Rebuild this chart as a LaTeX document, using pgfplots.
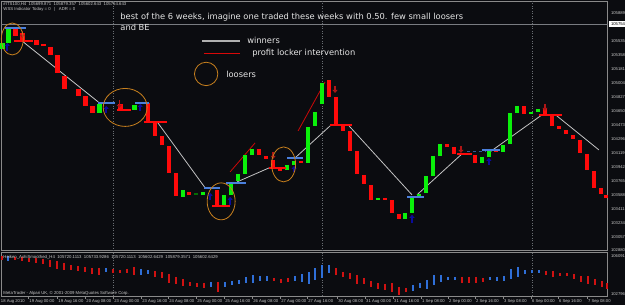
\documentclass[border=0pt]{standalone}
\usepackage{pgfplots}
\pgfplotsset{compat=1.18}
\usepackage{fontspec}
\setmainfont{DejaVu Sans}
\newfontfamily\smallf{Liberation Sans}
\usetikzlibrary{arrows.meta}
\definecolor{bgc}{HTML}{0B0C10}
\definecolor{gridc}{HTML}{6A6E73}
\definecolor{framec}{HTML}{8A8A8A}
\definecolor{candleR}{HTML}{FF0A0A}
\definecolor{candleG}{HTML}{0AF00A}
\definecolor{lvlblue}{HTML}{4A7FDC}
\definecolor{arrblue}{HTML}{0B0B9C}
\definecolor{arrred}{HTML}{B01616}
\definecolor{winc}{HTML}{C4C4C4}
\definecolor{orc}{HTML}{C8801E}
\definecolor{indred}{HTML}{D01212}
\definecolor{indblue}{HTML}{2F6FD8}
\definecolor{txtc}{HTML}{E6E6E6}
\definecolor{axtxt}{HTML}{C8C8C8}
\pgfplotsset{
  body/.style={line width=4.6bp, line cap=butt},
  lvl/.style={line width=2bp, line cap=butt},
  indbar/.style={line width=1.6bp, line cap=butt},
  uparr/.style={arrblue, line width=1.6bp, -{Triangle[length=3bp,width=5bp]}},
  dnarr/.style={arrred, line width=1.4bp, -{Triangle[length=3bp,width=5bp]}},
}
\begin{document}
\begin{tikzpicture}
\begin{axis}[
  width=625bp, height=305bp, scale only axis,
  xmin=0, xmax=625, ymin=0, ymax=305, y dir=reverse,
  axis line style={draw=none}, ticks=none,
  axis background/.style={fill=bgc},
  unbounded coords=jump, clip=false,
]
% frames and separators
\addplot[framec, line width=0.8bp] coordinates {(1,1) (608,1) (608,251) (1,251) (1,1)};
\addplot[framec, line width=0.8bp] coordinates {(1,253) (608,253) (608,297) (1,297) (1,253)};
\addplot[gridc, line width=0.5bp, dotted] coordinates {(113,1) (113,297) (113,nan) (322,1) (322,297) (322,nan) (532,1) (532,297)};
\addplot[gridc!90!white, line width=0.8bp] coordinates {(1,24) (608,24)};
% date ticks
\addplot[framec, line width=0.6bp] coordinates {(28,297) (28,299) (28,nan) (57,297) (57,299) (57,nan) (85,297) (85,299) (85,nan) (113,297) (113,299) (113,nan) (141,297) (141,299) (141,nan) (168,297) (168,299) (168,nan) (196,297) (196,299) (196,nan) (224,297) (224,299) (224,nan) (252,297) (252,299) (252,nan) (280,297) (280,299) (280,nan) (307,297) (307,299) (307,nan) (337,297) (337,299) (337,nan) (365,297) (365,299) (365,nan) (393,297) (393,299) (393,nan) (421,297) (421,299) (421,nan) (448,297) (448,299) (448,nan) (475,297) (475,299) (475,nan) (503,297) (503,299) (503,nan) (531,297) (531,299) (531,nan) (558,297) (558,299) (558,nan) (587,297) (587,299)};
% winners lines
\addplot[winc, line width=0.8bp] coordinates {(23,42) (98,102) (98,nan) (157,122) (205,188) (205,nan) (237,182) (269,168) (269,nan) (295,158) (330,126) (330,nan) (349,126) (412,195) (412,nan) (417,195) (462,154) (462,nan) (490,152) (542,115) (542,nan) (557,116) (599,150)};
% profit locker lines
\addplot[candleR!80!black, line width=0.8bp] coordinates {(230,172) (255,143) (255,nan) (298,131) (325,82)};
% green candle bodies
\addplot[candleG, body] coordinates {
(2,43) (2,49) (2,nan) (8,29) (8,43) (8,nan) (99,104) (99,113) (99,nan)
(134,105) (134,110) (134,nan) (183,190) (183,197) (183,nan) (203,192) (203,195) (203,nan)
(224,195) (224,205) (224,nan) (231,182) (231,195) (231,nan) (238,174) (238,181) (238,nan)
(245,155) (245,174) (245,nan) (252,149) (252,155) (252,nan) (287,165) (287,170) (287,nan)
(294,161) (294,165) (294,nan) (308,127) (308,163) (308,nan) (315,112) (315,126) (315,nan)
(322,83) (322,104) (322,nan) (378,198.5) (378,200.5) (378,nan) (405,213) (405,219) (405,nan)
(412,198) (412,213) (412,nan) (419,194) (419,197) (419,nan) (426,176) (426,193) (426,nan)
(433,156) (433,176) (433,nan) (440,144) (440,156) (440,nan) (482,157) (482,163) (482,nan)
(489,151) (489,157) (489,nan) (503,145) (503,152) (503,nan) (510,113) (510,144) (510,nan)
(517,106) (517,113) (517,nan) (531,112) (531,114) (531,nan) (538,109) (538,112)};
\addplot[candleG!45!black, body] coordinates {(196,193.5) (196,195)};
% red candle bodies
\addplot[candleR, body] coordinates {
(15,29) (15,36) (15,nan) (22,33) (22,41) (22,nan) (36,40) (36,45) (36,nan) (43,44) (43,46) (43,nan)
(50,47) (50,55) (50,nan) (57,55) (57,73) (57,nan) (64,76) (64,89) (64,nan) (78,89) (78,96) (78,nan)
(85,96) (85,106) (85,nan) (92,106) (92,113) (92,nan) (120,104) (120,109) (120,nan)
(148,103) (148,122) (148,nan) (155,122) (155,136) (155,nan) (162,136) (162,145) (162,nan)
(169,146) (169,173) (169,nan) (176,173) (176,196) (176,nan) (189,192) (189,195) (189,nan)
(217,190) (217,205) (217,nan) (259,149) (259,155) (259,nan) (266,156) (266,159) (266,nan)
(273,160) (273,168) (273,nan) (280,168) (280,171) (280,nan) (301,161) (301,163) (301,nan)
(329,80) (329,97) (329,nan) (336,97) (336,126) (336,nan) (343,126) (343,131) (343,nan)
(350,131) (350,151) (350,nan) (357,151) (357,174) (357,nan) (364,175) (364,184) (364,nan)
(371,185) (371,200) (371,nan) (385,198.5) (385,200) (385,nan) (392,200) (392,213) (392,nan)
(399,214) (399,219) (399,nan) (447,144) (447,147) (447,nan) (454,147) (454,154) (454,nan)
(461,153) (461,155) (461,nan) (475,155) (475,163) (475,nan) (496,150) (496,152) (496,nan)
(524,106) (524,114) (524,nan) (545,109) (545,115) (545,nan) (552,115) (552,126) (552,nan)
(559,126) (559,129) (559,nan) (566,130) (566,134) (566,nan) (573,135) (573,139) (573,nan)
(580,140) (580,153) (580,nan) (587,154) (587,170) (587,nan) (594,171) (594,188) (594,nan)
(601,188) (601,194) (601,nan) (606,195) (606,198)};
% red exit levels
\addplot[candleR, lvl] coordinates {(14,41) (33,41) (33,nan) (117,110) (131,110) (131,nan) (144,122) (167,122) (167,nan) (212,206) (230,206) (230,nan) (269,168) (286,168) (286,nan) (330,125) (352,125) (352,nan) (457,154) (472,154) (472,nan) (539,115) (562,115)};
% blue entry levels
\addplot[lvlblue, lvl] coordinates {(5,28) (26,28) (26,nan) (98,103) (115,103) (115,nan) (135,103) (149,103) (149,nan) (204,188) (220,188) (220,nan) (226,183) (246,183) (246,nan) (287,158) (303,158) (303,nan) (407,197) (424,197) (424,nan) (482,150) (500,150)};
\addplot[lvlblue!70!black, line width=1.2bp, dashed] coordinates {(467,152) (485,152)};
% blue up arrows
\addplot[uparr] coordinates {(7,51) (7,43)};
\addplot[uparr] coordinates {(106,113) (106,106)};
\addplot[uparr] coordinates {(140,111) (140,104)};
\addplot[uparr] coordinates {(210,200) (210,193)};
\addplot[uparr] coordinates {(230,205) (230,197)};
\addplot[uparr] coordinates {(294,172) (294,166)};
\addplot[uparr] coordinates {(412,223) (412,215)};
\addplot[uparr] coordinates {(489,165) (489,158)};
% red down arrows
\addplot[dnarr] coordinates {(22,31) (22,38)};
\addplot[dnarr] coordinates {(119,100) (119,108)};
\addplot[dnarr] coordinates {(273,152) (273,159)};
\addplot[dnarr] coordinates {(335,86) (335,93)};
\addplot[dnarr] coordinates {(461,146) (461,153)};
\addplot[dnarr] coordinates {(545,104) (545,111)};
% indicator bars
\addplot[indred, indbar] coordinates {
(2,256) (2,260) (2,nan) (15,257) (15,260) (15,nan) (22,257) (22,261) (22,nan) (29,258) (29,262) (29,nan)
(36,258) (36,263) (36,nan) (43,259) (43,264) (43,nan) (50,260) (50,267) (50,nan) (57,261) (57,269) (57,nan)
(64,263) (64,270) (64,nan) (71,265) (71,270) (71,nan) (78,266) (78,271) (78,nan) (85,267) (85,272) (85,nan)
(92,268) (92,274) (92,nan) (99,268) (99,275) (99,nan) (113,269) (113,273) (113,nan) (120,270) (120,273) (120,nan)
(127,269) (127,273) (127,nan) (134,267) (134,275) (134,nan) (155,271) (155,277) (155,nan) (162,272) (162,278) (162,nan)
(169,274) (169,283) (169,nan) (176,277) (176,284) (176,nan) (183,279) (183,286) (183,nan) (190,282) (190,286) (190,nan)
(197,283) (197,287) (197,nan) (204,283) (204,288) (204,nan) (218,282) (218,292) (218,nan)
(274,278) (274,281) (274,nan) (281,279) (281,283) (281,nan) (288,278) (288,282) (288,nan)
(336,268) (336,275) (336,nan) (343,272) (343,277) (343,nan) (350,273) (350,279) (350,nan) (357,275) (357,284) (357,nan)
(364,278) (364,284) (364,nan) (371,281) (371,287) (371,nan) (378,283) (378,289) (378,nan) (385,284) (385,290) (385,nan)
(392,283) (392,292) (392,nan) (399,287) (399,295) (399,nan) (406,288) (406,292) (406,nan)
(462,277) (462,283) (462,nan) (469,277) (469,283) (469,nan) (476,277) (476,283) (476,nan) (483,278) (483,282) (483,nan)
(546,271) (546,275) (546,nan) (553,271) (553,277) (553,nan) (560,273) (560,276) (560,nan) (567,273) (567,276) (567,nan)
(574,274) (574,279) (574,nan) (581,276) (581,282) (581,nan) (588,276) (588,284) (588,nan) (595,279) (595,285) (595,nan)
(602,281) (602,287) (602,nan) (607,283) (607,289)};
\addplot[indblue, indbar] coordinates {
(8,256) (8,261) (8,nan) (106,268) (106,272) (106,nan) (141,269) (141,275) (141,nan) (148,270) (148,274) (148,nan)
(211,282) (211,287) (211,nan) (225,282) (225,287) (225,nan) (232,281) (232,285) (232,nan) (239,280) (239,284) (239,nan)
(246,277) (246,283) (246,nan) (253,275) (253,283) (253,nan) (260,276) (260,281) (260,nan) (267,276) (267,281) (267,nan)
(295,276) (295,281) (295,nan) (302,274) (302,282) (302,nan) (309,272) (309,284) (309,nan) (315,268) (315,280) (315,nan)
(322,265) (322,278) (322,nan) (329,265) (329,273) (329,nan) (413,285) (413,291) (413,nan) (420,283) (420,288) (420,nan)
(427,280) (427,289) (427,nan) (434,275) (434,285) (434,nan) (441,275) (441,282) (441,nan) (448,277) (448,280) (448,nan)
(455,277) (455,280) (455,nan) (490,277) (490,280) (490,nan) (497,277) (497,281) (497,nan) (504,276) (504,281) (504,nan)
(511,269) (511,279) (511,nan) (518,267) (518,277) (518,nan) (525,270) (525,274) (525,nan) (532,270) (532,273) (532,nan)
(539,270) (539,273)};
% legend samples
\addplot[winc!90!black, line width=1.8bp] coordinates {(202,41) (240,41)};
\addplot[candleR!85!black, line width=0.8bp] coordinates {(204,53) (240,53)};
\draw[orc, line width=0.8bp] (axis cs:206,74) circle[radius=11.7bp];
% looser ellipses
\draw[orc, line width=0.8bp] (axis cs:12,39) ellipse[x radius=11bp, y radius=16bp];
\draw[orc, line width=0.8bp] (axis cs:125,107.5) ellipse[x radius=22bp, y radius=19bp];
\draw[orc, line width=0.8bp] (axis cs:221,201.5) ellipse[x radius=14bp, y radius=18.5bp];
\draw[orc, line width=0.8bp] (axis cs:283.5,164.5) ellipse[x radius=12bp, y radius=17.5bp];
% texts
\node[anchor=base west, text=txtc, font=\fontsize{8.35}{9}\selectfont, inner sep=0pt] at (axis cs:120,20) {best of the 6 weeks, imagine one traded these weeks with 0.50. few small loosers};
\node[anchor=base west, text=txtc, font=\fontsize{8.35}{9}\selectfont, inner sep=0pt] at (axis cs:120,31) {and BE};
\node[anchor=base west, text=txtc, font=\fontsize{8.35}{9}\selectfont, inner sep=0pt] at (axis cs:247,44) {winners};
\node[anchor=base west, text=txtc, font=\fontsize{8.35}{9}\selectfont, inner sep=0pt] at (axis cs:252,56) {profit locker intervention};
\node[anchor=base west, text=txtc, font=\fontsize{8.35}{9}\selectfont, inner sep=0pt] at (axis cs:226,78) {loosers};
\node[anchor=base west, text=axtxt, font=\smallf\fontsize{4.3}{5}\selectfont, inner sep=0pt] at (axis cs:3,6) {\#ITS100,H4 \ 105699.871 \ 105879.357 \ 105602.643 \ 105754.643};
\node[anchor=base west, text=axtxt, font=\smallf\fontsize{4.3}{5}\selectfont, inner sep=0pt] at (axis cs:3,11) {WSS Indicator Today = 0 \ \ | \ \ ADR = 0};
\node[anchor=base west, text=axtxt, font=\smallf\fontsize{4.3}{5}\selectfont, inner sep=0pt] at (axis cs:3,258.5) {Heiken\_AshiSmoothed\_H4 \ 105720.1113 \ 105733.9286 \ 105720.1113 \ 105602.6429 \ 105879.3571 \ 105602.6429};
\node[anchor=base west, text=axtxt, font=\smallf\fontsize{4.3}{5}\selectfont, inner sep=0pt] at (axis cs:3,295) {MetaTrader - Alpari UK, \textcopyright\ 2001-2009 MetaQuotes Software Corp.};
% price labels
\foreach \yy/\lab in {13/105889,41/105535,55/105358,69/105181,83/105004,97/104827,111/104650,125/104473,139/104296,153/104119,167/103942,181/103765,195/103588,209/103411,223/103234,237/103057,250/102880,256/106091,294/102796}{
  \edef\tmp{\noexpand\node[anchor=west, text=axtxt, font=\noexpand\smallf\noexpand\fontsize{4.2}{5}\noexpand\selectfont, inner sep=0pt] at (axis cs:611,\yy) {\lab};}\tmp
}
\fill[white] (axis cs:609,21) rectangle (axis cs:625,27.5);
\node[anchor=west, text=black, font=\smallf\fontsize{4.2}{5}\selectfont, inner sep=0pt] at (axis cs:611,24.3) {105754};
% date labels
\foreach \xx/\lab in {0.5/18 Aug 2010,29/19 Aug 00:00,58/19 Aug 16:00,86/20 Aug 08:00,114/23 Aug 00:00,142/23 Aug 16:00,169/24 Aug 08:00,197/25 Aug 00:00,225/25 Aug 16:00,253/26 Aug 08:00,281/27 Aug 00:00,308/27 Aug 16:00,338/30 Aug 08:00,366/31 Aug 00:00,394/31 Aug 16:00,422/1 Sep 08:00,449/2 Sep 00:00,476/2 Sep 16:00,504/3 Sep 08:00,532/6 Sep 00:00,559/6 Sep 16:00,588/7 Sep 08:00}{
  \edef\tmp{\noexpand\node[anchor=base west, text=axtxt, font=\noexpand\smallf\noexpand\fontsize{4.2}{5}\noexpand\selectfont, inner sep=0pt] at (axis cs:\xx,303) {\lab};}\tmp
}
\end{axis}
\end{tikzpicture}
\end{document}
